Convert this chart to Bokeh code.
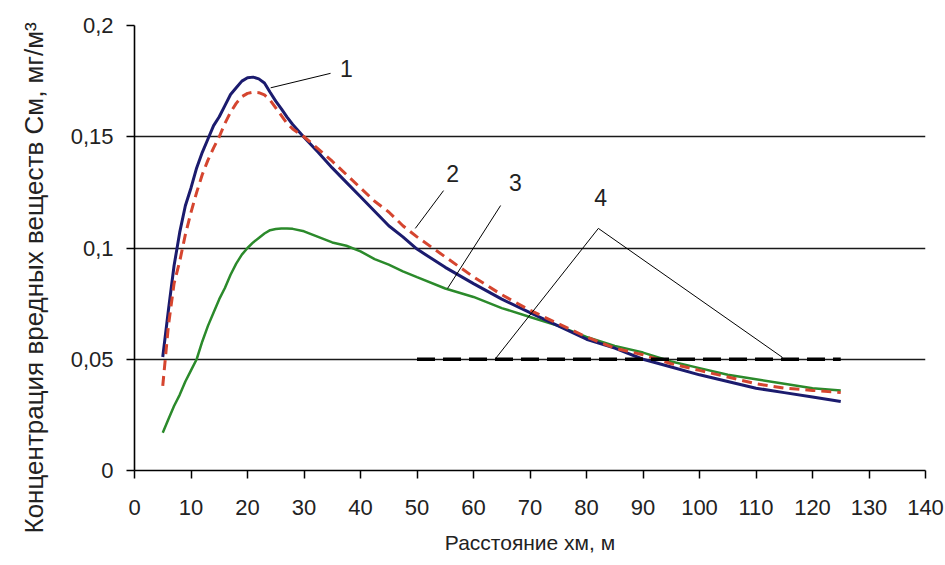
from bokeh.plotting import figure
from bokeh.models import FixedTicker, CustomJSTickFormatter, Range1d, Label, Title
from bokeh.embed import file_html
from bokeh.resources import INLINE

# ---- data ----
x_values = [5, 6, 7, 8, 9, 10, 11, 12, 13, 14, 15, 16, 17, 18, 19, 20, 21, 22, 23, 24,
            25, 26, 27, 28, 30, 32.5, 35, 37.5, 40, 42.5, 45, 47.5, 50, 55, 60, 65, 70,
            75, 80, 85, 90, 95, 100, 105, 110, 115, 120, 125]
curve1 = [0.051, 0.072, 0.092, 0.107, 0.119, 0.127, 0.136, 0.143, 0.149, 0.155, 0.159,
          0.164, 0.169, 0.172, 0.175, 0.1765, 0.1768, 0.176, 0.1742, 0.170, 0.166, 0.1625,
          0.1588, 0.1555, 0.1498, 0.143, 0.136, 0.1295, 0.123, 0.1165, 0.110, 0.105,
          0.0995, 0.0913, 0.084, 0.077, 0.071, 0.065, 0.059, 0.055, 0.050, 0.0465, 0.043,
          0.040, 0.037, 0.035, 0.033, 0.031]
curve2 = [0.038, 0.065, 0.084, 0.094, 0.106, 0.116, 0.125, 0.133, 0.1395, 0.145, 0.150,
          0.156, 0.161, 0.165, 0.168, 0.1695, 0.170, 0.1698, 0.1688, 0.1665, 0.163, 0.1595,
          0.156, 0.1535, 0.150, 0.1445, 0.139, 0.133, 0.127, 0.121, 0.1162, 0.110, 0.105,
          0.096, 0.087, 0.079, 0.072, 0.066, 0.060, 0.055, 0.052, 0.048, 0.045, 0.042,
          0.039, 0.037, 0.036, 0.035]
curve3 = [0.017, 0.023, 0.029, 0.034, 0.040, 0.045, 0.050, 0.058, 0.065, 0.071, 0.077,
          0.082, 0.088, 0.093, 0.097, 0.100, 0.1025, 0.1045, 0.1065, 0.108, 0.1085, 0.1088,
          0.1088, 0.1086, 0.1075, 0.105, 0.1025, 0.101, 0.0985, 0.095, 0.0925, 0.0895,
          0.0869, 0.0818, 0.078, 0.073, 0.069, 0.065, 0.060, 0.056, 0.053, 0.049, 0.046,
          0.043, 0.041, 0.039, 0.037, 0.036]
limit_x = [50, 125]
limit_y = [0.05, 0.05]

y_ticks = [0, 0.05, 0.1, 0.15, 0.2]
x_ticks = [0, 10, 20, 30, 40, 50, 60, 70, 80, 90, 100, 110, 120, 130, 140]

y_title = "Концентрация вредных веществ Cм, мг/м³"
x_title = "Расстояние xм, м"

# curve number labels and their leader lines (data units)
label_texts = ["1", "2", "3", "4"]
label_x = [37.5, 56.3, 67.4, 82.5]
label_y = [0.1807, 0.1335, 0.1294, 0.1227]
leader1_x = [24.1, 34.7]
leader1_y = [0.172, 0.1785]
leader2_x = [49.7, 54.7]
leader2_y = [0.1088, 0.1258]
leader3_x = [55.4, 64.8]
leader3_y = [0.0818, 0.1191]
leader4_x = [63.9, 82.1, 114.7]
leader4_y = [0.0503, 0.1088, 0.0508]

FONT = "Liberation Sans"
TXT = "#222222"

p = figure(width=945, height=565, output_backend="svg", toolbar_location=None,
           x_range=Range1d(0, 140), y_range=Range1d(0, 0.2),
           min_border_left=134, min_border_right=20, min_border_top=25,
           min_border_bottom=95)
p.outline_line_color = None
p.background_fill_color = "white"
p.border_fill_color = "white"

p.xgrid.visible = False
p.ygrid.ticker = FixedTicker(ticks=y_ticks)
p.ygrid.grid_line_color = "#1a1a1a"
p.ygrid.grid_line_width = 1.4

fmt = CustomJSTickFormatter(code="""
var s = tick.toFixed(2).replace(/0+$/, '').replace(/\\.$/, '');
return s.replace('.', ',');
""")

p.yaxis.ticker = FixedTicker(ticks=y_ticks)
p.yaxis.formatter = fmt
p.xaxis.ticker = FixedTicker(ticks=x_ticks)

for ax in (p.xaxis, p.yaxis):
    ax.axis_line_color = "black"
    ax.axis_line_width = 1.6
    ax.major_tick_line_color = "black"
    ax.major_tick_line_width = 1.5
    ax.major_tick_out = 8
    ax.major_tick_in = 0
    ax.minor_tick_line_color = None
    ax.major_label_text_font = FONT
    ax.major_label_text_font_size = "22px"
    ax.major_label_text_color = TXT
    ax.axis_label_text_font = FONT
    ax.axis_label_text_font_size = "21px"
    ax.axis_label_text_font_style = "normal"
    ax.axis_label_text_color = TXT

p.yaxis.major_label_standoff = 13
p.xaxis.major_label_standoff = 21
p.xaxis.axis_label = x_title
p.xaxis.axis_label_standoff = 13

# y title as a left-side title, starting below the frame like the reference
p.add_layout(Title(text=y_title, align="left", offset=-63, standoff=34,
                   vertical_align="top",
                   text_font=FONT, text_font_size="26px", text_font_style="normal",
                   text_color=TXT), "left")

# curves
p.line(x_values, curve3, line_color="#2b8a2b", line_width=2.5)
p.line(x_values, curve1, line_color="#1b1b6e", line_width=3)
p.line(x_values, curve2, line_color="#d5452f", line_width=3, line_dash="10 6")
p.line(limit_x, limit_y, line_color="black", line_width=3.5, line_dash="18 8")

# leader lines
for lx, ly in ((leader1_x, leader1_y), (leader2_x, leader2_y),
               (leader3_x, leader3_y), (leader4_x, leader4_y)):
    p.line(lx, ly, line_color="black", line_width=1)

for t, xx, yy in zip(label_texts, label_x, label_y):
    p.add_layout(Label(x=xx, y=yy, text=t, text_font=FONT, text_font_size="23px",
                       text_color=TXT, text_align="center", text_baseline="middle"))

open("out.html", "w").write(file_html(p, INLINE))
